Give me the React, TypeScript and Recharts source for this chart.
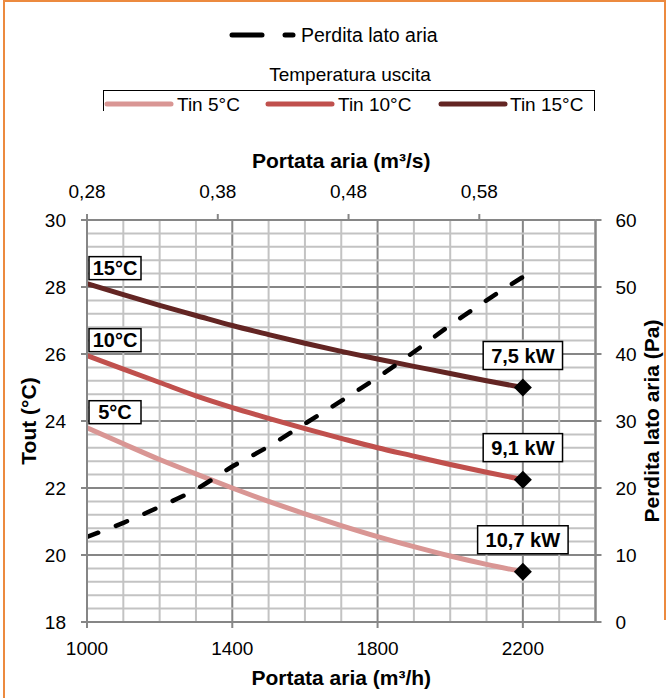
import React from 'react';
import { LineChart, Line, XAxis, YAxis, CartesianGrid, ReferenceLine } from 'recharts';

const FONT = '"Liberation Sans", Arial, sans-serif';

// portata aria (m3/h)
const flow = [1000, 1100, 1200, 1300, 1400, 1500, 1600, 1700, 1800, 1900, 2000, 2100, 2200];
// Tout (°C)
const tin5 = [23.8, 23.32, 22.85, 22.42, 22.0, 21.6, 21.23, 20.88, 20.55, 20.25, 19.97, 19.72, 19.5];
const tin10 = [25.95, 25.55, 25.15, 24.75, 24.4, 24.08, 23.77, 23.48, 23.2, 22.95, 22.7, 22.47, 22.25];
const tin15 = [28.1, 27.77, 27.45, 27.15, 26.85, 26.58, 26.32, 26.08, 25.85, 25.63, 25.42, 25.2, 25.0];
// perdita lato aria (Pa)
const perdita = [12.7, 14.8, 17.2, 19.8, 23.2, 26.2, 29.6, 33.0, 36.5, 40.3, 44.3, 48.0, 51.5];

const seriesNames = ['Tin 5°C', 'Tin 10°C', 'Tin 15°C'];
const startTags = ['5°C', '10°C', '15°C'];
const powerTags = ['10,7 kW', '9,1 kW', '7,5 kW'];

const bottomTicks = [1000, 1400, 1800, 2200];
const topTicksM3s = [0.2778, 0.3778, 0.4778, 0.5778];
const leftTicks = [18, 20, 22, 24, 26, 28, 30];
const rightTicks = [0, 10, 20, 30, 40, 50, 60];
const minorX = [1100, 1200, 1300, 1500, 1600, 1700, 1900, 2000, 2100, 2300];
const minorY = [
  18.4, 18.8, 19.2, 19.6, 20.4, 20.8, 21.2, 21.6, 22.4, 22.8, 23.2, 23.6,
  24.4, 24.8, 25.2, 25.6, 26.4, 26.8, 27.2, 27.6, 28.4, 28.8, 29.2, 29.6,
];

const colors = ['#D99694', '#C0504D', '#632523'];
const keys = ['tin5', 'tin10', 'tin15'];

const data = flow.map((f, i) => ({
  flow: f,
  tin5: tin5[i],
  tin10: tin10[i],
  tin15: tin15[i],
  perdita: perdita[i],
}));

let ctx: CanvasRenderingContext2D | null = null;
function textWidth(t: string, font: string) {
  if (!ctx) ctx = document.createElement('canvas').getContext('2d');
  if (!ctx) return t.length * 11;
  ctx.font = font;
  return ctx.measureText(t).width;
}

const BOX_FONT = `bold 20px ${FONT}`;

const makeDot = (s: number) => (p: any) => {
  const { cx, cy, index } = p;
  const last = flow.length - 1;
  if (index === 0) {
    return (
      <g key={`s${s}-${index}`}>
        <rect x={cx + 2} y={cy - 27} width={52} height={23} fill="#fff" stroke="#000" strokeWidth={1.5} />
        <text x={cx + 28} y={cy - 15.5} textAnchor="middle" dominantBaseline="central"
          fontFamily={FONT} fontWeight="bold" fontSize={20} fill="#000">{startTags[s]}</text>
      </g>
    );
  }
  if (index === last) {
    const w = textWidth(powerTags[s], BOX_FONT) + 16;
    return (
      <g key={`s${s}-${index}`}>
        <polygon points={`${cx},${cy - 9} ${cx + 9},${cy} ${cx},${cy + 9} ${cx - 9},${cy}`} fill="#000" />
        <rect x={cx - w / 2} y={cy - 46} width={w} height={28} fill="#fff" stroke="#000" strokeWidth={1.5} />
        <text x={cx} y={cy - 32} textAnchor="middle" dominantBaseline="central"
          fontFamily={FONT} fontWeight="bold" fontSize={20} fill="#000">{powerTags[s]}</text>
      </g>
    );
  }
  return <g key={`s${s}-${index}`} />;
};

const axisStroke = { stroke: '#868686', strokeWidth: 2 };
const tickStyle = { fill: '#000', fontSize: 19, fontFamily: FONT };
const titleStyle = { fill: '#000', fontSize: 21, fontWeight: 'bold', fontFamily: FONT };

// rotated axis title centred on the axis height
const sideTitle = (text: string, fromLeft: boolean, dist: number) => (props: any) => {
  const vb = props.viewBox || { x: 0, y: 220, width: 87, height: 402 };
  const x = fromLeft ? vb.x + dist : vb.x + vb.width - dist;
  const y = vb.y + vb.height / 2;
  return (
    <text x={x} y={y} transform={`rotate(-90 ${x} ${y})`} textAnchor="middle" dominantBaseline="central"
      fontFamily={FONT} fontWeight="bold" fontSize={21} fill="#000">{text}</text>
  );
};

function LegendLine({ color, left, top, width, dash }: { color: string; left: number; top: number; width: number; dash?: boolean }) {
  return (
    <svg style={{ position: 'absolute', left, top }} width={width + 6} height={10}>
      {dash ? (
        <>
          <line x1={3} y1={5} x2={33} y2={5} stroke={color} strokeWidth={5} strokeLinecap="round" />
          <line x1={56} y1={5} x2={64} y2={5} stroke={color} strokeWidth={5} strokeLinecap="round" />
        </>
      ) : (
        <line x1={3} y1={5} x2={width + 3} y2={5} stroke={color} strokeWidth={5} strokeLinecap="round" />
      )}
    </svg>
  );
}

const legendText: React.CSSProperties = {
  position: 'absolute',
  fontFamily: FONT,
  fontSize: 19,
  lineHeight: '24px',
  height: 24,
  color: '#000',
  whiteSpace: 'nowrap',
};

export default function App() {
  const itemLine = [104, 265, 438];
  const itemText = [177, 338, 510];
  return (
    <div style={{ position: 'absolute', left: 0, top: 0, width: 668, height: 698, background: '#fff', overflow: 'hidden' }}>
      {/* orange frame */}
      <div style={{ position: 'absolute', left: 3, top: 0, width: 2, height: 698, background: '#EC8A3F' }} />
      <div style={{ position: 'absolute', left: 3, top: 0, width: 663, height: 2, background: '#EC8A3F' }} />
      <div style={{ position: 'absolute', left: 664, top: 0, width: 2, height: 620, background: '#EC8A3F' }} />

      {/* legends */}
      <LegendLine color="#000" left={229} top={30} width={64} dash />
      <div style={{ ...legendText, left: 301, top: 23, fontSize: 19.5 }}>Perdita lato aria</div>
      <div style={{ ...legendText, left: 250, top: 63, width: 200, textAlign: 'center' }}>Temperatura uscita</div>
      <div style={{ position: 'absolute', left: 103, top: 90, width: 490, height: 20, borderLeft: '1px solid #000', borderTop: '1px solid #000', borderRight: '1px solid #000' }} />
      {seriesNames.map((n, i) => (
        <React.Fragment key={n}>
          <LegendLine color={colors[i]} left={itemLine[i]} top={99} width={64} />
          <div style={{ ...legendText, left: itemText[i], top: 93 }}>{n}</div>
        </React.Fragment>
      ))}

      <div style={{ position: 'absolute', left: 0, top: 0 }}>
        <LineChart width={668} height={698} data={data} margin={{ top: 120, right: 0, bottom: 0, left: 0 }}>
          {minorX.map((v) => (
            <ReferenceLine key={`mx${v}`} x={v} xAxisId="bottom" yAxisId="left" stroke="#C3C3C3" strokeWidth={2} />
          ))}
          {minorY.map((v) => (
            <ReferenceLine key={`my${v}`} y={v} xAxisId="bottom" yAxisId="left" stroke="#C3C3C3" strokeWidth={2} />
          ))}
          <CartesianGrid xAxisId="bottom" yAxisId="left" stroke="#868686" strokeWidth={2} />
          <XAxis
            xAxisId="bottom"
            dataKey="flow"
            type="number"
            domain={[1000, 2400]}
            ticks={bottomTicks}
            interval={0}
            height={76}
            axisLine={axisStroke}
            tickLine={axisStroke}
            tickSize={6}
            tickMargin={14}
            tick={tickStyle}
            allowDataOverflow
            label={{ value: 'Portata aria (m³/h)', position: 'insideBottom', offset: 13, ...titleStyle }}
          />
          <XAxis
            xAxisId="top"
            orientation="top"
            dataKey="flow"
            type="number"
            domain={[1000, 2400]}
            ticks={topTicksM3s.map((v) => v * 3600)}
            tickFormatter={(v: number) => (v / 3600).toFixed(2).replace('.', ',')}
            interval={0}
            height={100}
            axisLine={axisStroke}
            tickLine={axisStroke}
            tickSize={6}
            tickMargin={16}
            tick={tickStyle}
            allowDataOverflow
            label={{ value: 'Portata aria (m³/s)', position: 'insideTop', offset: 33, ...titleStyle }}
          />
          <YAxis
            yAxisId="left"
            domain={[18, 30]}
            ticks={leftTicks}
            interval={0}
            width={87}
            axisLine={axisStroke}
            tickLine={axisStroke}
            tickSize={6}
            tickMargin={15}
            tick={tickStyle}
            allowDataOverflow
            label={{ content: sideTitle('Tout (°C)', true, 28) }}
          />
          <YAxis
            yAxisId="right"
            orientation="right"
            domain={[0, 60]}
            ticks={rightTicks}
            interval={0}
            width={72.5}
            axisLine={axisStroke}
            tickLine={axisStroke}
            tickSize={6}
            tickMargin={14}
            tick={tickStyle}
            allowDataOverflow
            label={{ content: sideTitle('Perdita lato aria (Pa)', false, 17) }}
          />
          {keys.map((k, i) => (
            <Line
              key={k}
              xAxisId="bottom"
              yAxisId="left"
              type="monotone"
              dataKey={k}
              name={seriesNames[i]}
              stroke={colors[i]}
              strokeWidth={5}
              dot={makeDot(i)}
              activeDot={false}
              isAnimationActive={false}
            />
          ))}
          <Line
            xAxisId="top"
            yAxisId="right"
            type="monotone"
            dataKey="perdita"
            name="Perdita lato aria"
            stroke="#000"
            strokeWidth={4.5}
            strokeDasharray="12 19"
            strokeLinecap="round"
            dot={false}
            activeDot={false}
            isAnimationActive={false}
          />
        </LineChart>
      </div>
    </div>
  );
}
